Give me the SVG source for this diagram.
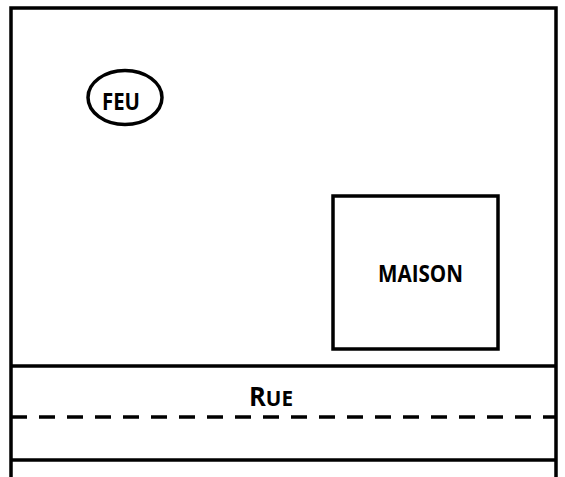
<svg xmlns="http://www.w3.org/2000/svg" width="565" height="477" viewBox="0 0 565 477">
<style>
.ln{fill:none;stroke:#000;stroke-width:3.5}
.t{font-family:"Open Sans","Liberation Sans",sans-serif;font-weight:bold;fill:#000}
</style>
<rect width="565" height="477" fill="#fff"/>
<g id="terrain">
<path class="ln" d="M11,477 V8 H556 V477"/>
</g>
<g id="rue">
<line class="ln" x1="11" y1="366" x2="556" y2="366"/>
<line class="ln" x1="11" y1="417" x2="556" y2="417" stroke-dasharray="16 12"/>
<line class="ln" x1="11" y1="460" x2="556" y2="460"/>
<text class="t" x="249" y="406" textLength="44" lengthAdjust="spacingAndGlyphs"><tspan font-size="26">R</tspan><tspan font-size="21">UE</tspan></text>
</g>
<g id="feu">
<ellipse class="ln" cx="125" cy="97.5" rx="37" ry="27"/>
<text class="t" x="102" y="110" font-size="23" textLength="38" lengthAdjust="spacingAndGlyphs">FEU</text>
</g>
<g id="maison">
<rect class="ln" x="333" y="196" width="165" height="153"/>
<text class="t" x="378" y="282" font-size="23" textLength="85" lengthAdjust="spacingAndGlyphs">MAISON</text>
</g>
<g id="connectors"/>
</svg>
